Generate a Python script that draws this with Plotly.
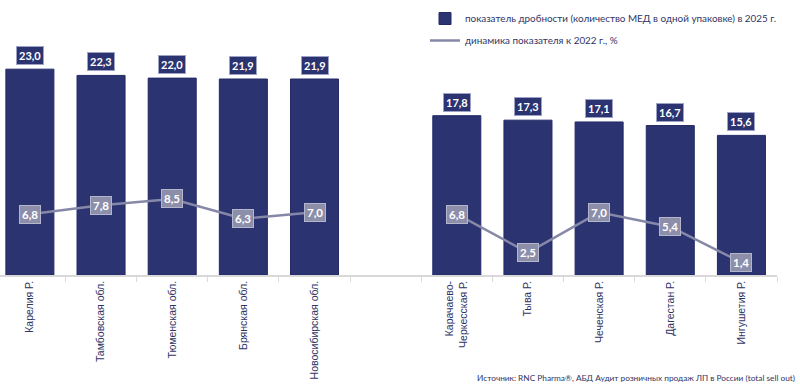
import plotly.graph_objects as go

categories = ["Карелия Р.", "Тамбовская обл.", "Тюменская обл.", "Брянская обл.", "Новосибирская обл.",
              " ",
              "Карачаево-<br>Черкесская Р.", "Тыва Р.", "Чеченская Р.", "Дагестан Р.", "Ингушетия Р."]
bar_values = [23.0, 22.3, 22.0, 21.9, 21.9, None, 17.8, 17.3, 17.1, 16.7, 15.6]
line_values = [6.8, 7.8, 8.5, 6.3, 7.0, None, 6.8, 2.5, 7.0, 5.4, 1.4]
bar_name = "показатель дробности (количество МЕД в одной упаковке) в 2025 г."
line_name = "динамика показателя к 2022 г., %"
source_text = "Источник: RNC Pharma®, АБД Аудит розничных продаж ЛП в России (total sell out)"

BAR_COLOR = "#2B3370"
LINE_COLOR = "#8688A8"
TEXT_COLOR = "#2F3566"
LABEL_FONT = "Lato, 'Open Sans', sans-serif"

def fmt(v):
    return f"{v:.1f}".replace(".", ",")

fig = go.Figure()
fig.add_trace(go.Bar(
    x=categories, y=bar_values, name=bar_name, legendgroup="bars",
    marker=dict(color=BAR_COLOR, line=dict(color="#232A66", width=1)),
    width=0.675, hoverinfo="skip",
))
fig.add_trace(go.Scatter(
    x=categories, y=line_values, name=line_name, mode="lines", legendgroup="line",
    line=dict(color=LINE_COLOR, width=2.5), connectgaps=False, hoverinfo="skip",
))

annotations = []
for c, v in zip(categories, bar_values):
    if v is None:
        continue
    annotations.append(dict(
        x=c, y=v, xref="x", yref="y", text=f"<b>{fmt(v)}</b>", showarrow=False,
        xanchor="center", yanchor="bottom", yshift=4,
        font=dict(family=LABEL_FONT, size=11, color="white"),
        bgcolor=BAR_COLOR, bordercolor="#9EA2C6", borderwidth=1, borderpad=2,
    ))
for c, v in zip(categories, line_values):
    if v is None:
        continue
    annotations.append(dict(
        x=c, y=v, xref="x", yref="y", text=f"<b>{fmt(v)}</b>", showarrow=False,
        xanchor="center", yanchor="middle",
        font=dict(family=LABEL_FONT, size=11.5, color="white"),
        bgcolor="#8C8EAA", bordercolor="#B4B6CC", borderwidth=1, borderpad=2,
    ))
annotations.append(dict(
    x=797 / 777, xref="paper", xanchor="right",
    y=0, yref="paper", yanchor="middle", yshift=-103,
    text=source_text, showarrow=False,
    font=dict(family=LABEL_FONT, size=8.3, color=TEXT_COLOR),
))

fig.update_layout(
    width=800, height=390,
    margin=dict(l=0, r=23, t=33, b=115, autoexpand=False),
    paper_bgcolor="white", plot_bgcolor="white",
    showlegend=True,
    legend=dict(
        xref="container", yref="container",
        x=425 / 800, y=1 - 4 / 390, xanchor="left", yanchor="top",
        font=dict(family=LABEL_FONT, size=9.9, color=TEXT_COLOR),
        bgcolor="rgba(0,0,0,0)", traceorder="grouped", itemwidth=30,
        tracegroupgap=3,
    ),
    annotations=annotations,
)
fig.update_xaxes(
    type="category", range=[-0.42, 10.5], automargin=False,
    showline=True, linecolor="#D9D9D9", linewidth=1.5,
    ticks="outside", tickson="boundaries", ticklen=5, tickcolor="#D9D9D9",
    tickangle=-90,
    tickfont=dict(family="'Liberation Sans', Arial, sans-serif", size=10.5, color=TEXT_COLOR),
    showgrid=False,
)
fig.update_yaxes(range=[0, 27.04], visible=False, showgrid=False, zeroline=False, automargin=False)

fig.write_html("out.html", config={"displayModeBar": False},
               post_script="document.body.style.margin='0';document.body.style.overflow='hidden';")
